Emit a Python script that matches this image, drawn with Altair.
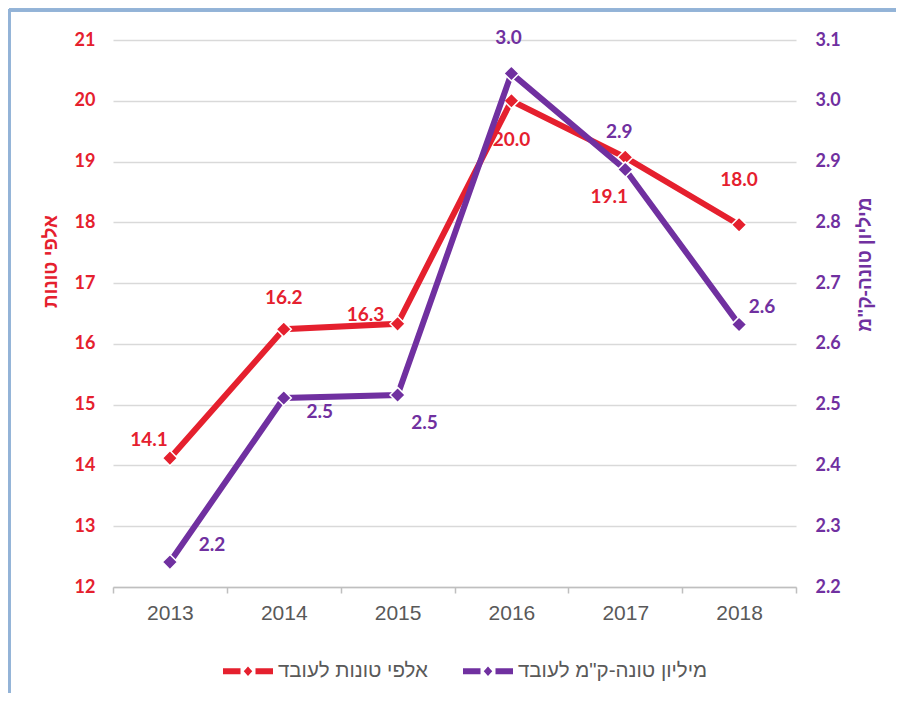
import altair as alt
import pandas as pd

# ---------------- data ----------------
years = ["2013", "2014", "2015", "2016", "2017", "2018"]
tons_thousand = [14.12, 16.24, 16.33, 20.0, 19.07, 17.96]      # left axis
tonkm_million = [2.241, 2.511, 2.516, 3.045, 2.887, 2.632]     # right axis
series_left = "אלפי טונות לעובד"
series_right = 'מיליון טונה-ק"מ לעובד'
left_title = "אלפי טונות"
right_title = 'מיליון טונה-ק"מ'
left_ticks = [12, 13, 14, 15, 16, 17, 18, 19, 20, 21]
right_ticks = [2.2, 2.3, 2.4, 2.5, 2.6, 2.7, 2.8, 2.9, 3.0, 3.1]

# ---------------- style ----------------
RED = "#e5202e"
PURPLE = "#7030a0"
GRAY_TXT = "#595959"
GRID = "#d9d9d9"
FRAME = "#93b3d7"
NUM_FONT = "Lato"
HEB_FONT = "Liberation Sans"
# pixel offsets of the value labels (dx, dy) per year
left_label_offsets = [(-21, -18), (0, -31), (-32, -9), (0, 39), (-16, 40), (0, -45)]
right_label_offsets = [(42, -17), (36, 14), (27, 28), (-3, -35), (-6, -37), (23, -17)]

W, H = 683, 547

df_left = pd.DataFrame({"year": years, "v": tons_thousand, "series": series_left})
df_right = pd.DataFrame({"year": years, "v": tonkm_million, "series": series_right})

x_enc = alt.X(
    "year:N",
    sort=years,
    scale=alt.Scale(type="band", paddingInner=0, paddingOuter=0),
    axis=alt.Axis(
        title=None, labelAngle=0, tickBand="extent", domainColor="#bfbfbf",
        domainWidth=1.5, tickColor="#bfbfbf", tickWidth=1.5, tickSize=6,
        labelFont=HEB_FONT, labelFontSize=21, labelColor=GRAY_TXT,
        labelPadding=9, grid=False,
    ),
)

y_left = alt.Y(
    "v:Q",
    scale=alt.Scale(domain=[12, 21], nice=False, zero=False),
    axis=alt.Axis(
        orient="left", values=left_ticks, grid=True, gridColor=GRID, gridWidth=1.5,
        domain=False, ticks=False, labelFont=NUM_FONT, labelFontWeight="bold",
        labelFontSize=18, labelColor=RED, labelPadding=18,
        title=left_title, titleFont=HEB_FONT, titleFontWeight="bold",
        titleFontSize=19, titleColor=RED, titleAngle=270, titleAlign="center",
        titleBaseline="middle", titleX=-63, titleY=221,
    ),
)

y_right = alt.Y(
    "v:Q",
    scale=alt.Scale(domain=[2.2, 3.1], nice=False, zero=False),
    axis=alt.Axis(
        orient="right", values=right_ticks, format=".1f", grid=False,
        domain=False, ticks=False, labelFont=NUM_FONT, labelFontWeight="bold",
        labelFontSize=18, labelColor=PURPLE, labelPadding=19,
        title=right_title, titleFont=HEB_FONT, titleFontWeight="bold",
        titleFontSize=19, titleColor=PURPLE, titleAngle=270, titleAlign="center",
        titleBaseline="middle", titleX=68, titleY=224,
    ),
)

legend_path = (
    "M-1,-0.12 L-0.3,-0.12 L-0.3,0.12 L-1,0.12 Z "
    "M0.3,-0.12 L1,-0.12 L1,0.12 L0.3,0.12 Z "
    "M0,-0.19 L0.17,0 L0,0.19 L-0.17,0 Z"
)

color_enc = alt.Color(
    "series:N",
    scale=alt.Scale(domain=[series_left, series_right], range=[RED, PURPLE]),
    legend=alt.Legend(
        title=None, orient="none", legendX=110, legendY=606, direction="horizontal",
        symbolType=legend_path, symbolSize=2500, symbolStrokeWidth=0,
        labelFont=HEB_FONT, labelFontSize=20.5, labelColor=GRAY_TXT,
        labelOffset=5, columnPadding=35, labelLimit=400,
    ),
)


def group(df, y_enc, color, offsets, fmt):
    base = alt.Chart(df)
    line = base.mark_line(color=color, strokeWidth=6).encode(x=x_enc, y=y_enc)
    pts = base.mark_point(
        shape="diamond", filled=True, size=230, opacity=1,
        stroke="white", strokeWidth=1.5,
    ).encode(x=x_enc, y=y_enc, color=color_enc)
    layers = [line, pts]
    for yr, (dx, dy) in zip(years, offsets):
        t = base.transform_filter(alt.datum.year == yr).mark_text(
            dx=dx, dy=dy, font=NUM_FONT, fontWeight="bold", fontSize=19,
            color=color, align="center", baseline="middle",
        ).encode(x=x_enc, y=y_enc, text=alt.Text("v:Q", format=fmt))
        layers.append(t)
    return layers


left_layers = group(df_left, y_left, RED, left_label_offsets, ".1f")
right_layers = group(df_right, y_right, PURPLE, right_label_offsets, ".1f")

frame_top = alt.Chart(df_left).mark_rule(color=FRAME, strokeWidth=3).encode(
    x=alt.value(-104), x2=alt.value(790), y=alt.value(-30)
)
frame_left = alt.Chart(df_left).mark_rule(color=FRAME, strokeWidth=3).encode(
    x=alt.value(-104), y=alt.value(-31), y2=alt.value(690)
)

left_group = alt.layer(frame_top, frame_left, *left_layers)
right_group = alt.layer(*right_layers)

chart = (
    alt.layer(left_group, right_group)
    .resolve_scale(y="independent")
    .properties(
        width=W, height=H,
        autosize=alt.AutoSizeParams(type="none"),
        padding={"left": 105, "top": 32, "right": 100, "bottom": 106},
        background="white",
    )
    .configure_view(stroke=None)
)

chart.save("out.html", embed_options={"renderer": "svg", "actions": False})
